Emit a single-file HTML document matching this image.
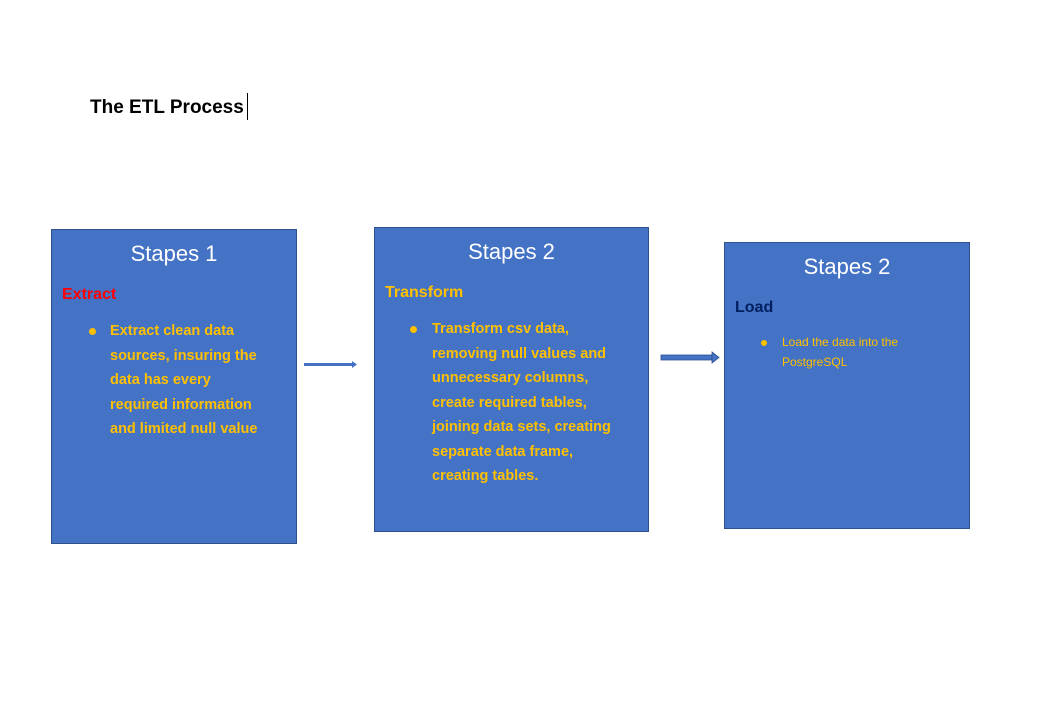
<!DOCTYPE html>
<html><head><meta charset="utf-8"><style>
body{margin:0;width:1047px;height:706px;background:#fff;position:relative;font-family:"Liberation Sans",sans-serif;overflow:hidden}
.a{position:absolute}
.box{position:absolute;background:#4472C4;border:1px solid #2F528F;box-sizing:border-box}
.h{position:absolute;color:#fff;font-size:22px;text-align:center;width:100%}
.t{position:absolute;font-weight:bold;font-size:16px;white-space:nowrap}
.y{color:#FFC000;font-weight:bold;font-size:14.5px;line-height:24.5px;white-space:nowrap;position:absolute}
.dot{position:absolute;width:7px;height:7px;border-radius:50%;background:#FFC000}
</style></head><body>
<div class="a" style="left:90px;top:97px;font-size:19px;font-weight:bold">The ETL Process</div>
<div class="a" style="left:247px;top:93px;width:1px;height:27px;background:#000"></div>

<div class="box" style="left:51px;top:229px;width:246px;height:315px">
<div class="h" style="top:11px">Stapes 1</div>
<div class="t" style="left:10px;top:56px;color:#f00">Extract</div>
<div class="dot" style="left:37px;top:98px"></div>
<div class="y" style="left:58px;top:89px">Extract clean data<br>sources, <span style="border-bottom:1px solid #3a6fe0">insuring</span> the<br>data has every<br>required information<br>and limited null value</div>
</div>

<div class="box" style="left:374px;top:227px;width:275px;height:305px">
<div class="h" style="top:11px">Stapes 2</div>
<div class="t" style="left:10px;top:56px;color:#FFC000">Transform</div>
<div class="dot" style="left:35px;top:98px"></div>
<div class="y" style="left:57px;top:89px">Transform csv data,<br>removing null values and<br>unnecessary columns,<br>create required tables,<br>joining data sets, creating<br>separate data frame,<br>creating tables.</div>
</div>

<div class="box" style="left:724px;top:242px;width:246px;height:287px">
<div class="h" style="top:11px">Stapes 2</div>
<div class="t" style="left:10px;top:56px;color:#002060">Load</div>
<div class="dot" style="left:36px;top:97px;width:6px;height:6px"></div>
<div class="a" style="left:57px;top:90px;color:#FFC000;font-size:12px;line-height:19.5px">Load the data into the<br>PostgreSQL</div>
</div>

<svg class="a" style="left:0;top:0" width="1047" height="706">
<line x1="304" y1="364.5" x2="353" y2="364.5" stroke="#4472C4" stroke-width="3"/>
<polygon points="352,361 357,364.5 352,368" fill="#4472C4"/>
<rect x="661" y="355" width="52" height="5" fill="#4472C4" stroke="#2F528F" stroke-width="0.8"/>
<polygon points="712,352 719,357.5 712,363" fill="#4472C4" stroke="#2F528F" stroke-width="0.8"/>
</svg>
</body></html>
